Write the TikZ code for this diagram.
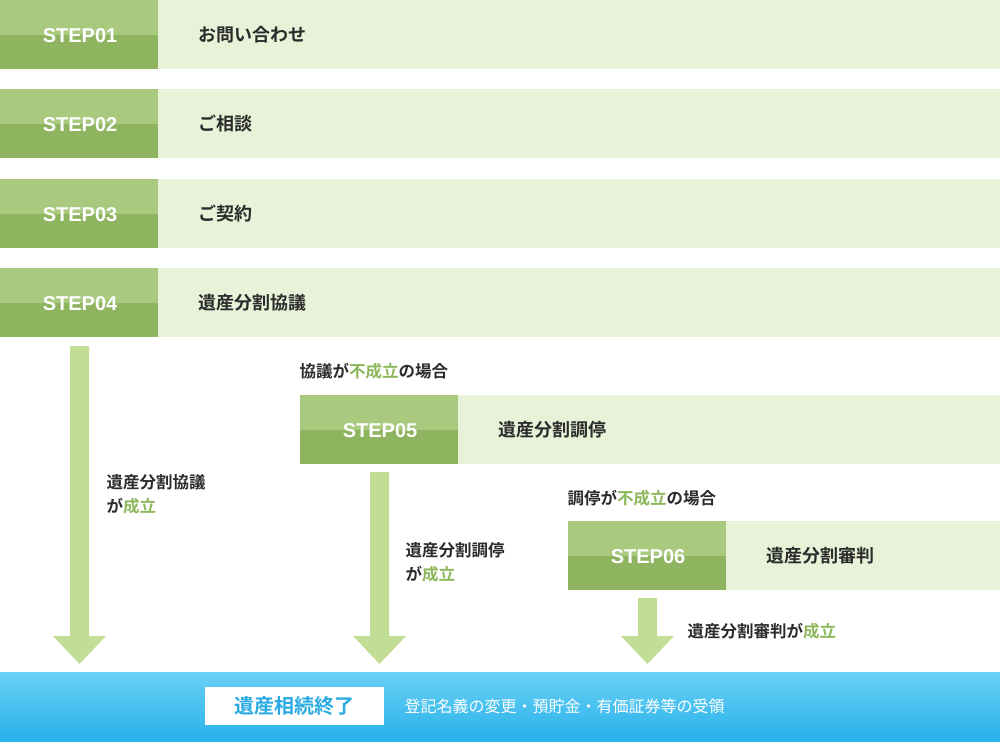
\documentclass[tikz,border=0pt]{standalone}
\usepackage{fontspec}
\newfontfamily\jp{Noto Sans CJK JP}
\newfontfamily\jpb{Noto Sans CJK JP Bold}
\setmainfont{Liberation Sans}
\usetikzlibrary{positioning}
\definecolor{gtop}{HTML}{A9C97F}
\definecolor{gbot}{HTML}{8FB45F}
\definecolor{pale}{HTML}{E8F2D8}
\definecolor{arr}{HTML}{C2DD96}
\definecolor{hl}{HTML}{8CB75A}
\definecolor{txt}{HTML}{2B2B2B}
\definecolor{btop}{HTML}{6BD0F5}
\definecolor{bbot}{HTML}{27B2EA}
\definecolor{bt}{HTML}{29ABE2}
\begin{document}
\begin{tikzpicture}[x=1pt,y=-1pt,
 stepbox/.style={font=\bfseries\fontsize{20}{20}\selectfont,text=white},
 titl/.style={font=\jpb\fontsize{18}{18}\selectfont,text=txt,anchor=west},
 lab/.style={font=\jpb\fontsize{16.5}{24}\selectfont,text=txt,anchor=west,align=left},
 arrw/.style={fill=arr}]
\useasboundingbox (0,0) rectangle (1000,741);
\newcommand\mystep[5]{% x0 y0 num title name
 \fill[pale] (#1+158,#2) rectangle (1000,#2+69);
 \fill[gtop] (#1,#2) rectangle (#1+158,#2+35);
 \fill[gbot] (#1,#2+35) rectangle (#1+158,#2+69);
 \node[stepbox] (s#5) at (#1+80,#2+36) {STEP#3};
 \node[titl] (t#5) at (#1+195,#2+35) {#4};}
\mystep{0}{0}{01}{お問い合わせ}{a}
\mystep{0}{89}{02}{ご相談}{b}
\mystep{0}{179}{03}{ご契約}{c}
\mystep{0}{268}{04}{遺産分割協議}{d}
\mystep{300}{395}{05}{遺産分割調停}{e}
\mystep{568}{521}{06}{遺産分割審判}{f}
\node[lab] (l1) at (296,371) {協議が{\color{hl}不成立}の場合};
\node[lab] (l2) at (564,498) {調停が{\color{hl}不成立}の場合};
\fill[arrw] (70,346) -- (89,346) -- (89,636) -- (106,636) -- (79.5,664) -- (53,636) -- (70,636) -- cycle;
\fill[arrw] (370,472) -- (389,472) -- (389,636) -- (406,636) -- (379.5,664) -- (353,636) -- (370,636) -- cycle;
\fill[arrw] (638,598) -- (657,598) -- (657,636) -- (674,636) -- (647.5,664) -- (621,636) -- (638,636) -- cycle;
\node[lab] (a1) at (103,494) {遺産分割協議\\が{\color{hl}成立}};
\node[lab] (a2) at (402,562) {遺産分割調停\\が{\color{hl}成立}};
\node[lab] (a3) at (684,631) {遺産分割審判が{\color{hl}成立}};
\shade[top color=btop,bottom color=bbot] (0,672) rectangle (1000,741);
\fill[white] (205,687) rectangle (384,725);
\node[font=\jpb\fontsize{20}{20}\selectfont,text=bt] (end) at (294.5,706) {遺産相続終了};
\node[font=\jp\fontsize{16}{16}\selectfont,text=white,anchor=west] (endt) at (401,706) {登記名義の変更・預貯金・有価証券等の受領};
\end{tikzpicture}
\end{document}
